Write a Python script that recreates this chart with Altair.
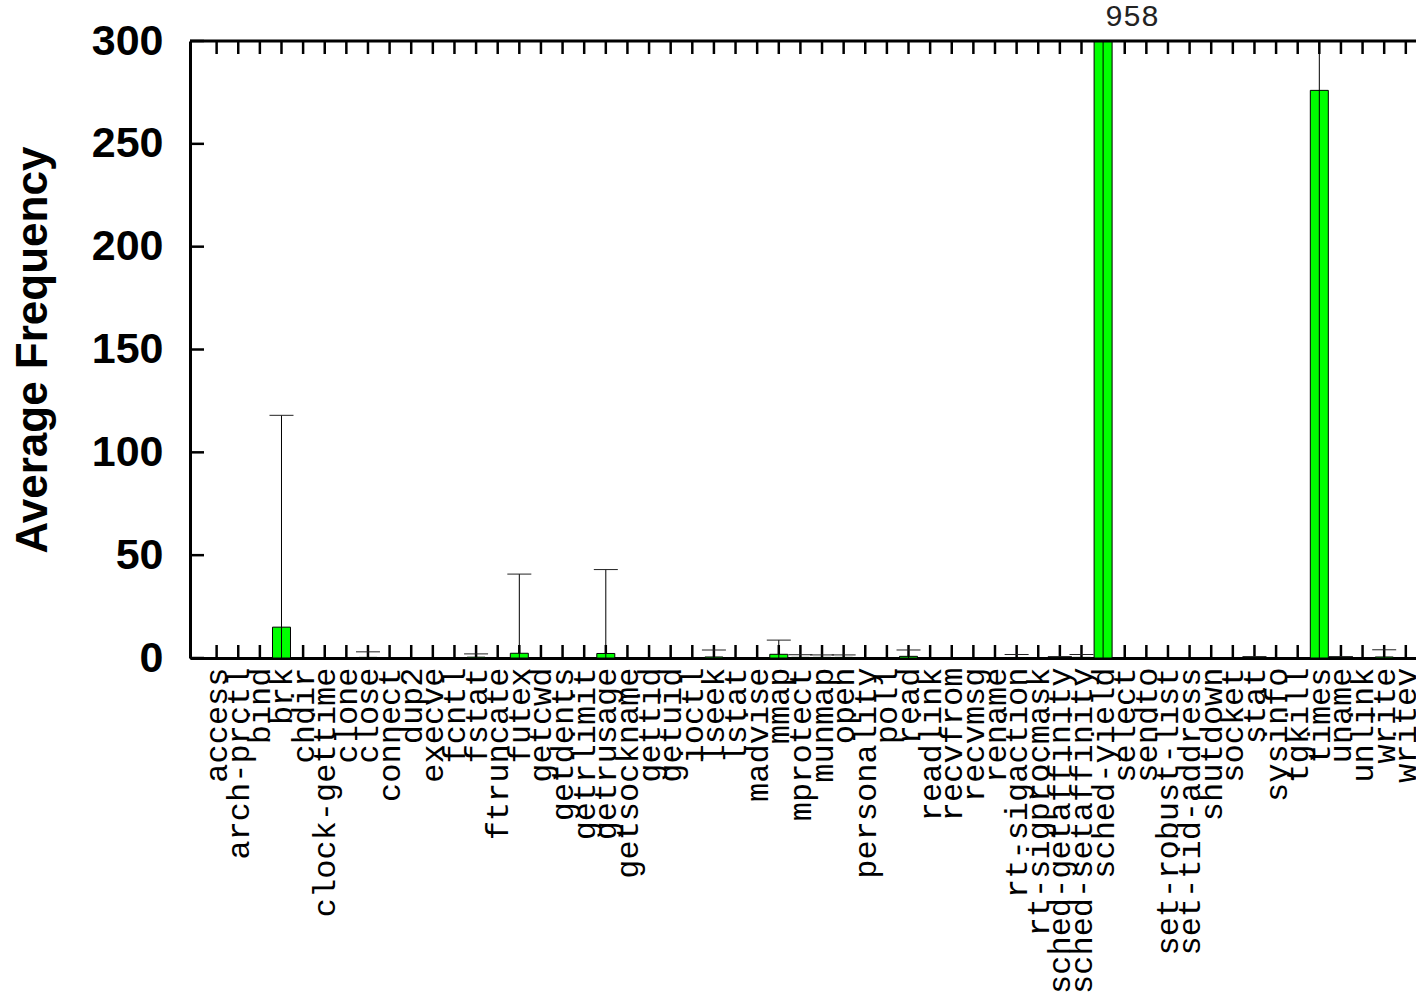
import altair as alt
import pandas as pd

# System calls and their average frequency (mean and standard deviation)
calls = [
    "access", "arch-prctl", "bind", "brk", "chdir", "clock-gettime", "clone",
    "close", "connect", "dup2", "execve", "fcntl", "fstat", "ftruncate", "futex",
    "getcwd", "getdents", "getrlimit", "getrusage", "getsockname", "gettid",
    "getuid", "ioctl", "lseek", "lstat", "madvise", "mmap", "mprotect", "munmap",
    "open", "personality", "poll", "read", "readlink", "recvfrom", "recvmsg",
    "rename", "rt-sigaction", "rt-sigprocmask", "sched-getaffinity",
    "sched-setaffinity", "sched-yield", "select", "sendto", "set-robust-list",
    "set-tid-address", "shutdown", "socket", "stat", "sysinfo", "tgkill", "times",
    "uname", "unlink", "write", "writev",
]
mean_freq = [
    0, 0, 0, 15, 0, 0, 0,
    0.3, 0, 0, 0, 0, 0.4, 0, 2.3,
    0, 0, 0, 2.2, 0, 0,
    0, 0, 0.5, 0, 0, 1.8, 0.3, 0.3,
    0.3, 0, 0, 0.8, 0, 0, 0,
    0, 0.2, 0, 0.1,
    0.3, 958, 0, 0, 0,
    0, 0, 0, 0.1, 0, 0, 276,
    0.1, 0, 0.5, 0,
]
std_freq = [
    0, 0, 0, 103, 0, 0, 0,
    2.7, 0, 0, 0, 0, 1.6, 0, 38.5,
    0, 0, 0, 40.8, 0, 0,
    0, 0, 3.4, 0, 0, 6.9, 1.3, 1.2,
    1.2, 0, 0, 3.1, 0, 0, 0,
    0, 1.5, 0, 0.6,
    1.4, 1210, 0, 0, 0,
    0, 0, 0, 0.6, 0, 0, 330,
    0.6, 0, 3.5, 0,
]
y_ticks = [0, 50, 100, 150, 200, 250, 300]

df = pd.DataFrame({
    "idx": list(range(len(calls))),
    "call": calls,
    "value": mean_freq,
    "sd": std_freq,
})
ticks_df = pd.DataFrame({"t": y_ticks})
one = pd.DataFrame({"k": [0]})

W, H = 1226, 617
MONO = "Liberation Mono"
SANS = "Liberation Sans"

x_scale = alt.Scale(domain=[-1, 55.24], nice=False, zero=False)
y_scale = alt.Scale(domain=[0, 300], nice=False, zero=True)

label_expr = "[" + ",".join("'" + c + "'" for c in calls) + "][datum.value]"
x_axis = alt.Axis(
    values=list(range(len(calls))), labelExpr=label_expr, labelAngle=270,
    labelAlign="right", labelBaseline="middle", labelPadding=9,
    labelFont=MONO, labelFontSize=32, labelColor="#000", labelOverlap=False,
    labelLimit=0, labelFlush=False, labelBound=False, ticks=False, tickSize=0,
    grid=False, domain=True, domainColor="#000", domainWidth=3, title=None,
)
y_axis = alt.Axis(
    values=y_ticks, labelFont=SANS, labelFontWeight="bold", labelFontSize=43,
    labelColor="#000", labelPadding=27, labelFlush=False, labelBound=False,
    ticks=False, tickSize=0, grid=False, domain=True, domainColor="#000",
    domainWidth=3, title="Average Frequency", titleFont=SANS,
    titleFontWeight="bold", titleFontSize=44, titleColor="#000", titlePadding=36,
)

X = alt.X("idx:Q", scale=x_scale, axis=x_axis)

# inward tick marks along the bottom and top borders
x_ticks_bottom = alt.Chart(df).mark_rule(color="#000", strokeWidth=2.5).encode(
    x=X, y=alt.value(H), y2=alt.value(H - 13)
)
x_ticks_top = alt.Chart(df).mark_rule(color="#000", strokeWidth=2.5).encode(
    x=X, y=alt.value(0), y2=alt.value(13)
)
# inward tick marks along the left border
y_tick_marks = alt.Chart(ticks_df).mark_rule(color="#000", strokeWidth=2.5).encode(
    y=alt.Y("t:Q", scale=y_scale, axis=y_axis), x=alt.value(0), x2=alt.value(14)
)

bars = alt.Chart(df).mark_bar(
    size=18, color="#00ff00", stroke="#000", strokeWidth=1, clip=True
).encode(
    x=X,
    y=alt.Y("value:Q", scale=y_scale, axis=y_axis),
    y2=alt.datum(0),
)

err = alt.Chart(df).transform_filter("datum.sd > 0").transform_calculate(
    lo="max(0, datum.value - datum.sd)", hi="datum.value + datum.sd"
)
err_lines = err.mark_rule(color="#000", strokeWidth=1, clip=True).encode(
    x=X, y=alt.Y("lo:Q", scale=y_scale, axis=y_axis), y2="hi:Q"
)
err_caps = err.mark_tick(
    orient="horizontal", size=24, thickness=1, color="#222", clip=True, opacity=1
).encode(x=X, y=alt.Y("hi:Q", scale=y_scale, axis=y_axis))

top_border = alt.Chart(one).mark_rule(color="#000", strokeWidth=3).encode(
    x=alt.value(0), x2=alt.value(W), y=alt.value(0)
)

# value label for bars that run off the top of the axis
overflow = alt.Chart(df).transform_filter("datum.value > 300").mark_text(
    align="left", baseline="bottom", dx=2, dy=-9, font=MONO, fontSize=30,
    color="#222"
).encode(
    x=X, y=alt.datum(300, scale=y_scale), text=alt.Text("value:Q", format="d")
)

chart = alt.layer(
    x_ticks_bottom, x_ticks_top, y_tick_marks, bars, err_lines, err_caps,
    top_border, overflow
).properties(
    width=W, height=H,
    autosize=alt.AutoSizeParams(type="none"),
    padding={"left": 190, "top": 41, "right": 0, "bottom": 336},
    background="white",
).configure_view(stroke=None)

chart.save("out.html", embed_options={"renderer": "svg", "actions": False})
